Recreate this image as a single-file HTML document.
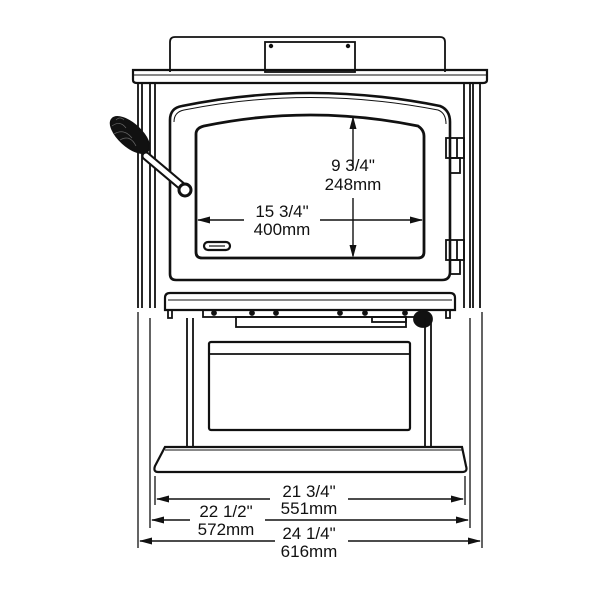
<!DOCTYPE html>
<html><head><style>body{margin:0;background:#fff}svg{display:block}</style></head><body>
<svg width="600" height="600" viewBox="0 0 600 600" xmlns="http://www.w3.org/2000/svg" fill="none" stroke="#111" stroke-width="1.8">
<!-- top box -->
<path d="M170 72 V42 Q170 37 175 37 H440 Q445 37 445 42 V72"/>
<rect x="265" y="42" width="90" height="30"/>
<circle cx="271" cy="46" r="1.3" fill="#111"/><circle cx="348" cy="46" r="1.3" fill="#111"/>
<!-- ledge -->
<path d="M133 70 H487 V80 Q487 83 483 83 H137 Q133 83 133 80 Z" stroke-width="2.2"/>
<line x1="133" y1="75" x2="487" y2="75" stroke-width="1"/>
<!-- body sides -->
<path d="M138 83 V308 M142 83 V308 M150 83 V308 M155 83 V308"/>
<path d="M464 83 V308 M470 83 V308 M473 83 V308 M480 83 V308"/>
<!-- door -->
<path d="M170 120 Q170 108 182 106 Q310 80 440 106 Q450 110 450 122 V272 Q450 280 442 280 H176 Q170 280 170 274 Z" stroke-width="2.6"/>
<path d="M174 122 Q174 112 184 110 Q310 85 438 110 Q446 113 446 124" stroke-width="1"/>
<path d="M196 134 Q196 128 204 126 Q310 104 418 126 Q424 130 424 136 V252 Q424 258 418 258 H202 Q196 258 196 252 Z" stroke-width="2.8"/>
<rect x="204" y="242" width="26" height="8" rx="4" stroke-width="2.2"/>
<line x1="209" y1="246" x2="225" y2="246" stroke-width="1.2"/>
<!-- hinges -->
<rect x="446" y="138" width="18" height="20"/><line x1="457" y1="138" x2="457" y2="158"/>
<rect x="450" y="158" width="10" height="15"/>
<rect x="446" y="240" width="18" height="20"/><line x1="457" y1="240" x2="457" y2="260"/>
<rect x="450" y="260" width="10" height="14"/>
<!-- handle -->
<line x1="146" y1="156" x2="184" y2="188" stroke-width="9" stroke-linecap="round"/>
<line x1="146" y1="156" x2="184" y2="188" stroke="#fff" stroke-width="5" stroke-linecap="round"/>
<ellipse cx="130" cy="135" rx="24" ry="11" transform="rotate(42 130 135)" fill="#111"/>
<g stroke="#666" stroke-width="0.7"><path d="M116 120 q4 -4 8 0 M112 126 q8 -6 14 2 M114 134 q10 -6 18 4 M120 140 q10 -6 16 6"/></g>
<circle cx="185" cy="190" r="6" stroke-width="3" fill="#fff"/>
<!-- ash lip -->
<path d="M165 310 V298 Q165 293 170 293 H450 Q455 293 455 298 V310 Z" stroke-width="2.2"/>
<line x1="168" y1="300" x2="452" y2="300" stroke-width="1"/>
<path d="M168 310 V318 H172 V310 M446 310 V318 H450 V310"/>
<rect x="203" y="310" width="217" height="7"/>
<g fill="#111"><circle cx="214" cy="313" r="2"/><circle cx="252" cy="313" r="2"/><circle cx="276" cy="313" r="2"/><circle cx="340" cy="313" r="2"/><circle cx="365" cy="313" r="2"/><circle cx="405" cy="313" r="2"/></g>
<rect x="236" y="317" width="170" height="10"/>
<rect x="372" y="317" width="34" height="5"/>
<ellipse cx="423" cy="319" rx="9" ry="8" fill="#111"/>
<!-- pedestal -->
<path d="M187 318 V447 M193 318 V447 M425 318 V447 M431 318 V447"/>
<rect x="209" y="342" width="201" height="88" rx="2" stroke-width="2.2"/>
<line x1="209" y1="354" x2="410" y2="354"/>
<!-- base -->
<path d="M165 447 H462 L466 466 Q468 472 462 472 H158 Q153 472 155 466 Z" stroke-width="2.2"/>
<line x1="165" y1="450" x2="462" y2="450" stroke-width="1"/>
<!-- extension lines -->
<g stroke-width="1.3">
<path d="M155 476 V505 M465 476 V505 M150 318 V528 M470 318 V528 M138 312 V548 M482 312 V548"/>
</g>
<!-- dimension arrows -->
<g stroke-width="1.4">
<path d="M157 499 H270 M348 499 H463"/>
<path d="M152 520 H190 M265 520 H468"/>
<path d="M140 541 H275 M348 541 H480"/>
<path d="M353 118 V168 M353 198 V256"/>
<path d="M198 220 H244 M320 220 H422"/>
</g>
<g fill="#111" stroke="none">
<path d="M156 499 l13 -3.5 v7z M464 499 l-13 -3.5 v7z"/>
<path d="M151 520 l13 -3.5 v7z M469 520 l-13 -3.5 v7z"/>
<path d="M139 541 l13 -3.5 v7z M481 541 l-13 -3.5 v7z"/>
<path d="M353 116 l-3.5 13 h7z M353 258 l-3.5 -13 h7z"/>
<path d="M197 220 l13 -3.5 v7z M423 220 l-13 -3.5 v7z"/>
</g>
<g fill="#111" stroke="none" font-family="Liberation Sans, sans-serif" font-size="17" text-anchor="middle">
<text x="309" y="497">21 3/4"</text><text x="309" y="514">551mm</text>
<text x="226" y="517">22 1/2"</text><text x="226" y="535">572mm</text>
<text x="309" y="539">24 1/4"</text><text x="309" y="557">616mm</text>
<text x="353" y="171">9 3/4"</text><text x="353" y="190">248mm</text>
<text x="282" y="217">15 3/4"</text><text x="282" y="235">400mm</text>
</g>
</svg>
</body></html>
